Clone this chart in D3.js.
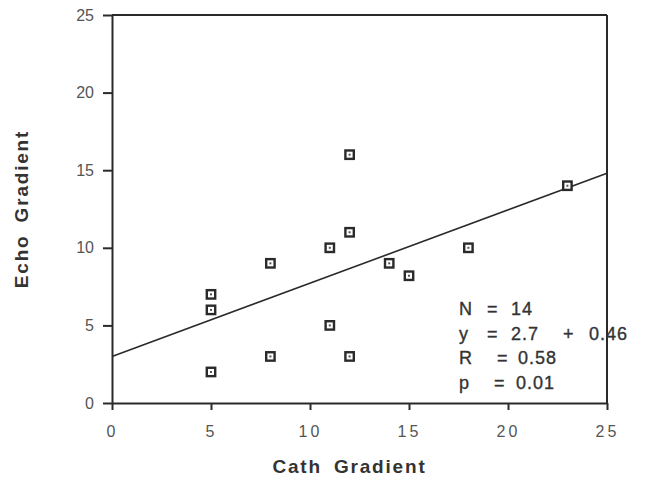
<!DOCTYPE html>
<html>
<head>
<meta charset="utf-8">
<script src="https://cdn.jsdelivr.net/npm/d3@7"></script>
<style>
  body { margin: 0; background: #fff; }
  text { font-family: "Liberation Sans", Arial, sans-serif; }
</style>
</head>
<body>
<script>
// data
var cathValues = [5, 5, 5, 8, 8, 11, 11, 12, 12, 12, 14, 15, 18, 23];
var echoValues = [7, 6, 2, 9, 3, 10, 5, 16, 11, 3, 9, 8.2, 10, 14];
var fitX = [0, 25];
var fitY = [3.0, 14.8];
var xTicks = [0, 5, 10, 15, 20, 25];
var yTicks = [0, 5, 10, 15, 20, 25];
var statLines = [
  ["N", "=", "14"],
  ["y", "=", "2.7", "+", "0.46"],
  ["R", "=", "0.58"],
  ["p", "=", "0.01"]
];
// horizontal placement of each piece of the stats rows
var statCols = [
  [0, 28, 52],
  [0, 28, 52, 104, 130],
  [0, 38, 59],
  [0, 35, 57]
];

var WIDTH = 654, HEIGHT = 477;
var LEFT = 112, RIGHT = 607, TOP = 15, BOTTOM = 403;

var svg = d3.select('body').append('svg')
  .attr('width', WIDTH)
  .attr('height', HEIGHT);

var xScale = d3.scaleLinear().domain([0, 25]).range([LEFT, RIGHT]);
var yScale = d3.scaleLinear().domain([0, 25]).range([BOTTOM, TOP]);

var ink = '#2a2a2a';

// axes
var xAxis = d3.axisBottom(xScale).tickValues(xTicks).tickSize(7).tickSizeOuter(0);
var yAxis = d3.axisLeft(yScale).tickValues(yTicks).tickSize(9).tickSizeOuter(0);

var gx = svg.append('g')
  .attr('transform', 'translate(0,' + BOTTOM + ')')
  .call(xAxis);
gx.select('.domain').attr('stroke', ink).attr('stroke-width', 2);
gx.selectAll('.tick line').attr('stroke', ink).attr('stroke-width', 2);
gx.selectAll('.tick text')
  .attr('y', 23)
  .attr('fill', '#555')
  .style('font-size', '16px')
  .style('letter-spacing', '3px');

var gy = svg.append('g')
  .attr('transform', 'translate(' + LEFT + ',0)')
  .call(yAxis);
gy.select('.domain').attr('stroke', ink).attr('stroke-width', 2);
gy.selectAll('.tick line').attr('stroke', ink).attr('stroke-width', 2);
gy.selectAll('.tick text')
  .attr('x', -18)
  .attr('fill', '#555')
  .style('font-size', '16px');

// frame top and right
svg.append('line')
  .attr('x1', xScale(0)).attr('x2', xScale(25))
  .attr('y1', yScale(25)).attr('y2', yScale(25))
  .attr('stroke', ink).attr('stroke-width', 2);
svg.append('line')
  .attr('x1', xScale(25)).attr('x2', xScale(25))
  .attr('y1', yScale(25)).attr('y2', yScale(0))
  .attr('stroke', ink).attr('stroke-width', 2);

// fit line
var fitPoints = fitX.map(function (x, i) { return {x: x, y: fitY[i]}; });
var line = d3.line()
  .x(function (d) { return xScale(d.x); })
  .y(function (d) { return yScale(d.y); });
svg.append('path')
  .attr('d', line(fitPoints))
  .attr('fill', 'none')
  .attr('stroke', ink)
  .attr('stroke-width', 1.6);

// points
var points = cathValues.map(function (c, i) { return {x: c, y: echoValues[i]}; });
var pts = svg.append('g').selectAll('g')
  .data(points)
  .enter()
  .append('g')
  .attr('transform', function (d) { return 'translate(' + xScale(d.x) + ',' + yScale(d.y) + ')'; });
pts.append('rect')
  .attr('x', -4.2).attr('y', -4.2)
  .attr('width', 8.4).attr('height', 8.4)
  .attr('fill', '#fff')
  .attr('stroke', ink)
  .attr('stroke-width', 2.4);
pts.append('rect')
  .attr('x', -1).attr('y', -1)
  .attr('width', 2).attr('height', 2)
  .attr('fill', '#555');

// stats block
var stats = svg.append('g')
  .attr('transform', 'translate(459,315)')
  .attr('fill', '#333')
  .attr('stroke', '#333')
  .attr('stroke-width', 0.35)
  .style('font-size', '18px')
  .style('letter-spacing', '1px');
statLines.forEach(function (row, i) {
  var t = stats.append('text').attr('y', i * 24.5);
  row.forEach(function (s, j) {
    t.append('tspan').attr('x', statCols[i][j]).text(s);
  });
});

// axis titles
svg.append('text')
  .attr('x', (LEFT + RIGHT) / 2 - 10)
  .attr('y', 473)
  .attr('text-anchor', 'middle')
  .attr('fill', '#333')
  .style('font-size', '19px')
  .style('font-weight', 'bold')
  .style('letter-spacing', '1.8px')
  .style('word-spacing', '5px')
  .text('Cath Gradient');

svg.append('text')
  .attr('transform', 'translate(28,209) rotate(-90)')
  .attr('text-anchor', 'middle')
  .attr('fill', '#333')
  .style('font-size', '19px')
  .style('font-weight', 'bold')
  .style('letter-spacing', '1.8px')
  .style('word-spacing', '5px')
  .text('Echo Gradient');
</script>
</body>
</html>
